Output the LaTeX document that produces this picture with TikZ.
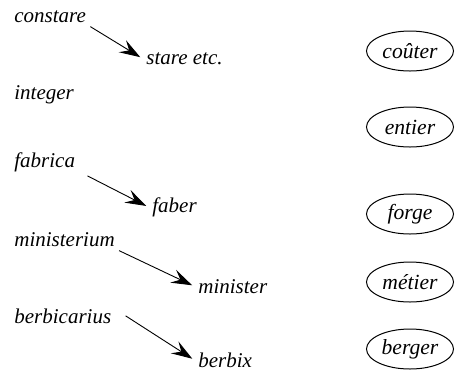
\documentclass[tikz,border=0pt]{standalone}
\usepackage{fontspec}
\setmainfont{Liberation Serif}
\usepackage{tikz}
\usetikzlibrary{arrows.meta}
\usetikzlibrary{shapes.geometric}

\tikzset{
	latin/.style={anchor=base west, inner sep=2pt, font=\fontsize{10.5}{12}\selectfont\itshape},
	french/.style={draw, ellipse, line width=0.5pt, minimum width=43.5pt, minimum height=20pt,
		inner sep=0pt, font=\fontsize{10.8}{12}\selectfont\itshape},
	derive/.style={-{Stealth[length=10.5pt, width=7pt, inset=4pt]}, line width=0.45pt, shorten >=1pt}
}

\begin{document}
\begin{tikzpicture}[x=0.5pt, y=-0.5pt]
				\useasboundingbox (0,0) rectangle (455,371);
				
				% latin etyma and their bases
				\node[latin] (constare) at (10, 22) {constare};
				\node[latin] (stare) at (142, 64) {stare etc.};
				\node[latin] (integer) at (10, 99) {integer};
				\node[latin] (fabrica) at (10, 167) {fabrica};
				\node[latin] (faber) at (148, 212) {faber};
				\node[latin] (ministerium) at (10, 246) {ministerium};
				\node[latin] (minister) at (194, 293) {minister};
				\node[latin] (berbicarius) at (10, 323) {berbicarius};
				\node[latin] (berbix) at (194, 367) {berbix};
				
				% french outcomes
				\node[french] (couter) at (410, 51) {coûter};
				\node[french] (entier) at (410, 127) {entier};
				\node[french] (forge) at (410, 214) {forge};
				\node[french] (metier) at (410, 282) {métier};
				\node[french] (berger) at (410, 349) {berger};
				
				\draw[derive] (constare.south east) -- (stare.west);
				\draw[derive] ([xshift=4pt]fabrica.south east) -- (faber.west);
				\draw[derive] (ministerium.south east) -- (minister.west);
				\draw[derive] ([xshift=5pt]berbicarius.east) -- (berbix.west);
				
			\end{tikzpicture}
\end{document}
